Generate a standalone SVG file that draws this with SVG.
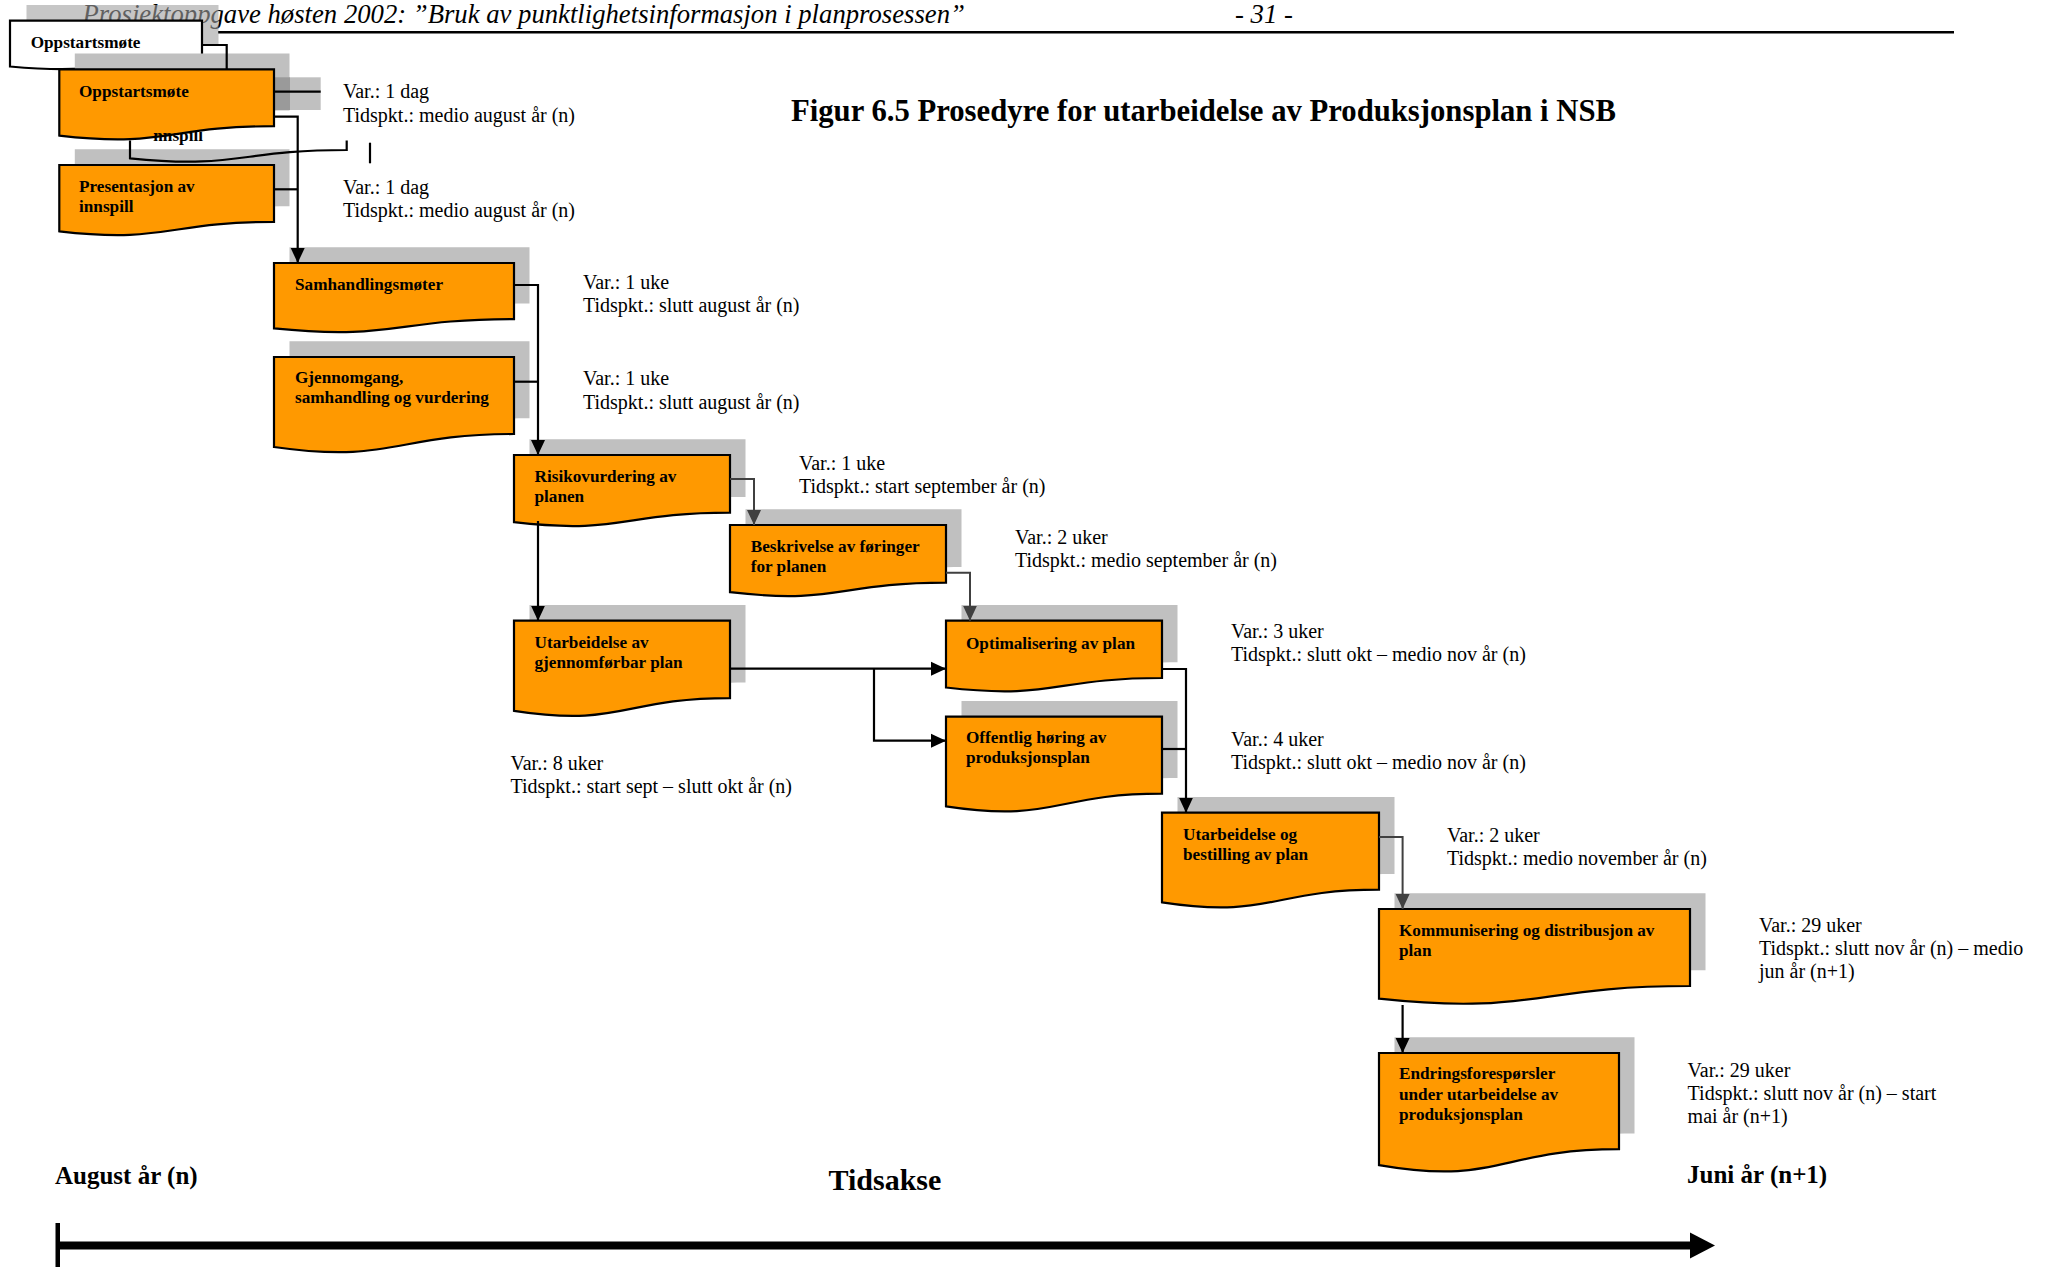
<svg xmlns="http://www.w3.org/2000/svg" xmlns:xlink="http://www.w3.org/1999/xlink" width="2049" height="1267" viewBox="0 0 2049 1267">
  <style>
    .box { fill: #ff9900; stroke: #000; stroke-width: 2.2; }
    .wbox { fill: #fff; stroke: #000; stroke-width: 2.2; }
    .shadow { fill: #c0c0c0; }
    .lbl { font-family: "Liberation Serif", "Times New Roman", serif; font-weight: bold; font-size: 17.2px; fill: #000; }
    .note { font-family: "Liberation Serif", "Times New Roman", serif; font-size: 20px; fill: #000; }
    .axis-lbl { font-family: "Liberation Serif", "Times New Roman", serif; font-weight: bold; fill: #000; }
    .hdr { font-family: "Liberation Serif", "Times New Roman", serif; font-style: italic; font-size: 26.7px; fill: #000; }
    .conn { fill: none; stroke: #000; stroke-width: 2.2; }
    .conn-g { fill: none; stroke: #404040; stroke-width: 2; }
    .thin { fill: none; stroke: #000; stroke-width: 2.2; }
  </style>
  <defs>
    <marker id="arr" markerUnits="userSpaceOnUse" markerWidth="16" markerHeight="16" viewBox="0 0 16 16" refX="15" refY="7.5" orient="auto">
      <path d="M0,0.5 L15,7.5 L0,14.5 Z" fill="#000"/>
    </marker>
    <marker id="arr-g" markerUnits="userSpaceOnUse" markerWidth="16" markerHeight="16" viewBox="0 0 16 16" refX="15" refY="7.5" orient="auto">
      <path d="M0,0.5 L15,7.5 L0,14.5 Z" fill="#404040"/>
    </marker>
    <clipPath id="clip-innspill">
      <rect x="153" y="131.7" width="60" height="15"/>
    </clipPath>
    <clipPath id="clip-hidden">
      <rect x="120" y="140.5" width="240" height="30"/>
    </clipPath>

    <!-- document shapes: flat top, wavy bottom -->
    <path id="s-white" d="M10 20.7 H202 V60 C106 60 106 75 10 66.5 Z"/>
    <path id="s1" d="M59.3 69.3 H274 V126.2 C166.7 126.2 166.7 147.9 59.3 135.6 Z"/>
    <path id="s2" d="M59.3 165 H274 V221.9 C166.7 221.9 166.7 243.6 59.3 231.3 Z"/>
    <path id="s3" d="M274 263 H514 V319.1 C394 319.1 394 340.5 274 328.4 Z"/>
    <path id="s4" d="M274 357 H514 V434 C394 434 394 464 274 447 Z"/>
    <path id="s5" d="M514 455 H730 V512.7 C622 512.7 622 534.7 514 522.2 Z"/>
    <path id="s6" d="M730 525 H946 V582.7 C838 582.7 838 604.7 730 592.2 Z"/>
    <path id="s7" d="M514 620.7 H730 V698.1 C622 698.1 622 727.6 514 710.8 Z"/>
    <path id="s8" d="M946 620.7 H1162 V678 C1054 678 1054 699.9 946 687.5 Z"/>
    <path id="s9" d="M946 716.7 H1162 V793.7 C1054 793.7 1054 823 946 806.4 Z"/>
    <path id="s10" d="M1162 812.7 H1379 V889.7 C1270.5 889.7 1270.5 919 1162 902.4 Z"/>
    <path id="s11" d="M1379 909 H1690 V986 C1534.5 986 1534.5 1015.3 1379 998.7 Z"/>
    <path id="s12" d="M1379 1053 H1619 V1149.2 C1499 1149.2 1499 1185.9 1379 1165.1 Z"/>
  </defs>

  <rect x="0" y="0" width="2049" height="1267" fill="#fff"/>

  <!-- page header -->
  <g id="header">
    <text class="hdr" x="82.5" y="22.5">Prosjektoppgave høsten 2002: ”Bruk av punktlighetsinformasjon i planprosessen”</text>
    <text class="hdr" x="1235" y="22.5">- 31 -</text>
    <line x1="218" y1="32.3" x2="1954" y2="32.3" stroke="#000" stroke-width="2.4"/>
  </g>

  <!-- title -->
  <text id="title" class="axis-lbl" x="791" y="121" font-size="30.7">Figur 6.5 Prosedyre for utarbeidelse av Produksjonsplan i NSB</text>

  <!-- nodes -->
  <g id="node-oppstart-white">
    <use xlink:href="#s-white" href="#s-white" fill="#a0a0a0" opacity="0.6" transform="translate(16.5,-15.7)"/>
    <use xlink:href="#s-white" href="#s-white" class="wbox"/>
    <text class="lbl" x="30.7" y="47.7">Oppstartsmøte</text>
  </g>

  <g id="node-oppstart">
    <use xlink:href="#s1" href="#s1" class="shadow" transform="translate(15.5,-15.7)"/>
    <rect x="274" y="77.3" width="46.7" height="32.7" fill="#c0c0c0"/>
    <rect x="274" y="77.3" width="16" height="32.7" fill="#9a9a9a"/>
    <use xlink:href="#s1" href="#s1" class="box"/>
    <text class="lbl" x="79" y="96.7">Oppstartsmøte</text>
  </g>

  <g id="node-presentasjon">
    <use xlink:href="#s2" href="#s2" class="shadow" transform="translate(15.5,-15.7)"/>
    <use xlink:href="#s2" href="#s2" class="box"/>
    <text class="lbl" x="79" y="192"><tspan x="79">Presentasjon av</tspan><tspan x="79" dy="20">innspill</tspan></text>
  </g>

  <g id="node-innspill">
    <text class="lbl" x="148.5" y="140.5" clip-path="url(#clip-innspill)">innspill</text>
    <path class="thin" clip-path="url(#clip-hidden)" d="M130 130 V158.3 C238.4 169.3 238.4 150 346.7 150 V130"/>
    <line x1="370" y1="142.7" x2="370" y2="163.3" stroke="#000" stroke-width="2.2"/>
  </g>

  <g id="node-samhandlingsmoter">
    <use xlink:href="#s3" href="#s3" class="shadow" transform="translate(15.5,-15.7)"/>
    <use xlink:href="#s3" href="#s3" class="box"/>
    <text class="lbl" x="295" y="290">Samhandlingsmøter</text>
  </g>

  <g id="node-gjennomgang">
    <use xlink:href="#s4" href="#s4" class="shadow" transform="translate(15.5,-15.7)"/>
    <use xlink:href="#s4" href="#s4" class="box"/>
    <text class="lbl" x="295" y="383"><tspan x="295">Gjennomgang,</tspan><tspan x="295" dy="20">samhandling og vurdering</tspan></text>
  </g>

  <g id="node-risikovurdering">
    <use xlink:href="#s5" href="#s5" class="shadow" transform="translate(15.5,-15.7)"/>
    <use xlink:href="#s5" href="#s5" class="box"/>
    <text class="lbl" x="534.5" y="481.7"><tspan x="534.5">Risikovurdering av</tspan><tspan x="534.5" dy="20">planen</tspan></text>
  </g>

  <g id="node-beskrivelse">
    <use xlink:href="#s6" href="#s6" class="shadow" transform="translate(15.5,-15.7)"/>
    <use xlink:href="#s6" href="#s6" class="box"/>
    <text class="lbl" x="750.7" y="551.7"><tspan x="750.7">Beskrivelse av føringer</tspan><tspan x="750.7" dy="20">for planen</tspan></text>
  </g>

  <g id="node-utarbeidelse-gjennomforbar">
    <use xlink:href="#s7" href="#s7" class="shadow" transform="translate(15.5,-15.7)"/>
    <use xlink:href="#s7" href="#s7" class="box"/>
    <text class="lbl" x="534.5" y="648"><tspan x="534.5">Utarbeidelse av</tspan><tspan x="534.5" dy="20">gjennomførbar plan</tspan></text>
  </g>

  <g id="node-optimalisering">
    <use xlink:href="#s8" href="#s8" class="shadow" transform="translate(15.5,-15.7)"/>
    <use xlink:href="#s8" href="#s8" class="box"/>
    <text class="lbl" x="966" y="649">Optimalisering av plan</text>
  </g>

  <g id="node-offentlig-horing">
    <use xlink:href="#s9" href="#s9" class="shadow" transform="translate(15.5,-15.7)"/>
    <use xlink:href="#s9" href="#s9" class="box"/>
    <text class="lbl" x="966" y="743.3"><tspan x="966">Offentlig høring av</tspan><tspan x="966" dy="20">produksjonsplan</tspan></text>
  </g>

  <g id="node-utarbeidelse-bestilling">
    <use xlink:href="#s10" href="#s10" class="shadow" transform="translate(15.5,-15.7)"/>
    <use xlink:href="#s10" href="#s10" class="box"/>
    <text class="lbl" x="1183" y="840"><tspan x="1183">Utarbeidelse og</tspan><tspan x="1183" dy="20">bestilling av plan</tspan></text>
  </g>

  <g id="node-kommunisering">
    <use xlink:href="#s11" href="#s11" class="shadow" transform="translate(15.5,-15.7)"/>
    <use xlink:href="#s11" href="#s11" class="box"/>
    <text class="lbl" x="1399" y="936"><tspan x="1399">Kommunisering og distribusjon av</tspan><tspan x="1399" dy="20">plan</tspan></text>
  </g>

  <g id="node-endringsforesporsler">
    <use xlink:href="#s12" href="#s12" class="shadow" transform="translate(15.5,-15.7)"/>
    <use xlink:href="#s12" href="#s12" class="box"/>
    <text class="lbl" x="1399" y="1079.3"><tspan x="1399">Endringsforespørsler</tspan><tspan x="1399" dy="20.3">under utarbeidelse av</tspan><tspan x="1399" dy="20.3">produksjonsplan</tspan></text>
  </g>

  <!-- connectors -->
  <g id="connectors">
    <path class="conn" d="M202 45 H226.7 V69.3"/>
    <path class="conn" d="M274 91.7 H320.7"/>
    <path class="conn" d="M274 116.7 H297.7 V263" marker-end="url(#arr)"/>
    <path class="conn" d="M274 189.3 H297.7"/>
    <path class="conn" d="M514 285 H538 V455" marker-end="url(#arr)"/>
    <path class="conn" d="M514 381.7 H538"/>
    <path class="conn-g" d="M730 479 H754 V525" marker-end="url(#arr-g)"/>
    <path class="conn" d="M538 521 V620.7" marker-end="url(#arr)"/>
    <path class="conn-g" d="M946 572.7 H970 V620.7" marker-end="url(#arr-g)"/>
    <path class="conn" stroke-width="3" d="M730 668.7 H946" marker-end="url(#arr)"/>
    <path class="conn" stroke-width="2.6" d="M874 668.7 V740.7 H946" marker-end="url(#arr)"/>
    <path class="conn" d="M1162 669 H1186 V812.7" marker-end="url(#arr)"/>
    <path class="conn" d="M1162 749 H1186"/>
    <path class="conn-g" d="M1379 837 H1402.6 V909" marker-end="url(#arr-g)"/>
    <path class="conn" d="M1402.6 1005 V1053" marker-end="url(#arr)"/>
  </g>

  <!-- duration / timing notes -->
  <g id="notes" class="note">
    <text x="343" y="98.3"><tspan x="343">Var.: 1 dag</tspan><tspan x="343" dy="23.3">Tidspkt.: medio august år (n)</tspan></text>
    <text x="343" y="193.5"><tspan x="343">Var.: 1 dag</tspan><tspan x="343" dy="23.3">Tidspkt.: medio august år (n)</tspan></text>
    <text x="583" y="289"><tspan x="583">Var.: 1 uke</tspan><tspan x="583" dy="23.3">Tidspkt.: slutt august år (n)</tspan></text>
    <text x="583" y="385.3"><tspan x="583">Var.: 1 uke</tspan><tspan x="583" dy="23.3">Tidspkt.: slutt august år (n)</tspan></text>
    <text x="799" y="469.5"><tspan x="799">Var.: 1 uke</tspan><tspan x="799" dy="23.3">Tidspkt.: start september år (n)</tspan></text>
    <text x="1015" y="544"><tspan x="1015">Var.: 2 uker</tspan><tspan x="1015" dy="23.3">Tidspkt.: medio september år (n)</tspan></text>
    <text x="1231" y="638"><tspan x="1231">Var.: 3 uker</tspan><tspan x="1231" dy="23.3">Tidspkt.: slutt okt – medio nov år (n)</tspan></text>
    <text x="1231" y="746"><tspan x="1231">Var.: 4 uker</tspan><tspan x="1231" dy="23.3">Tidspkt.: slutt okt – medio nov år (n)</tspan></text>
    <text x="510.5" y="769.8"><tspan x="510.5">Var.: 8 uker</tspan><tspan x="510.5" dy="23.3">Tidspkt.: start sept – slutt okt år (n)</tspan></text>
    <text x="1447" y="842"><tspan x="1447">Var.: 2 uker</tspan><tspan x="1447" dy="23.3">Tidspkt.: medio november år (n)</tspan></text>
    <text x="1759" y="931.7"><tspan x="1759">Var.: 29 uker</tspan><tspan x="1759" dy="23.3">Tidspkt.: slutt nov år (n) – medio</tspan><tspan x="1759" dy="23.3">jun år (n+1)</tspan></text>
    <text x="1687.6" y="1076.7"><tspan x="1687.6">Var.: 29 uker</tspan><tspan x="1687.6" dy="23.3">Tidspkt.: slutt nov år (n) – start</tspan><tspan x="1687.6" dy="23.3">mai år (n+1)</tspan></text>
  </g>

  <!-- time axis -->
  <g id="time-axis">
    <text class="axis-lbl" x="55" y="1184" font-size="25">August år (n)</text>
    <text class="axis-lbl" x="828.5" y="1190" font-size="30">Tidsakse</text>
    <text class="axis-lbl" x="1687" y="1183" font-size="25">Juni år (n+1)</text>
    <rect x="55.5" y="1223" width="4.5" height="44" fill="#000"/>
    <line x1="57" y1="1245.5" x2="1693" y2="1245.5" stroke="#000" stroke-width="8"/>
    <polygon points="1690,1232.5 1715,1245.5 1690,1258.5" fill="#000"/>
  </g>
</svg>
